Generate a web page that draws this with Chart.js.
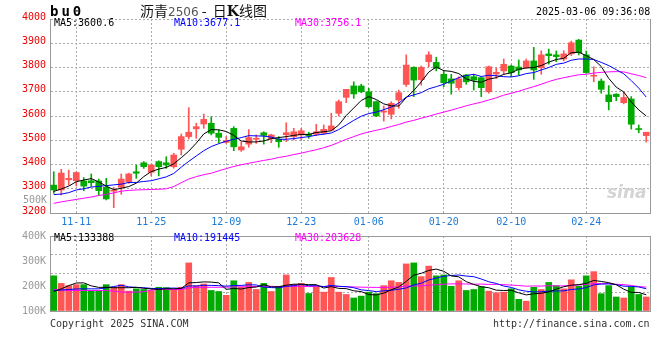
<!DOCTYPE html>
<html>
<head>
<meta charset="utf-8">
<script src="https://cdn.jsdelivr.net/npm/chart.js@4.4.1/dist/chart.umd.min.js"></script>
<style>
  body { margin: 0; background: #fff; width: 660px; height: 360px; position: relative; overflow: hidden; font-family: 'DejaVu Sans Mono', monospace; }
  .t { position: absolute; white-space: pre; font-size: 10px; line-height: 12px; }
  #priceBox { position: absolute; left: 0; top: 0; width: 660px; height: 232px; }
  #volBox { position: absolute; left: 0; top: 226px; width: 660px; height: 134px; }
</style>
</head>
<body>
<div id="priceBox"><canvas id="price" width="660" height="232"></canvas></div>
<div id="volBox"><canvas id="vol" width="660" height="134"></canvas></div>

<div class="t" style="left:50px;top:4px;font:bold 14px/15px 'DejaVu Sans Mono';letter-spacing:3px;">bu0</div>
<div class="t" style="left:140px;top:1px;font:14px/18px 'Noto Sans CJK SC';color:#111;">沥青<span style="font:12px 'DejaVu Sans';color:#555;">2506</span> -  日<b style="font-family:'DejaVu Serif'">K</b>线图</div>
<div class="t" style="left:536px;top:6px;color:#000;">2025-03-06 09:36:08</div>

<div class="t" style="left:54px;top:17px;color:#000;">MA5:3600.6</div>
<div class="t" style="left:174px;top:17px;color:#0000ff;">MA10:3677.1</div>
<div class="t" style="left:295px;top:17px;color:#ff00ff;">MA30:3756.1</div>

<div class="t" style="left:23px;top:194px;color:#999;">500K</div>
<div class="t" style="left:607px;top:183px;font:italic bold 17px/18px 'DejaVu Sans';color:#d4d4d4;">sina</div>

<div class="t" style="left:54px;top:232px;color:#000;">MA5:133388</div>
<div class="t" style="left:174px;top:232px;color:#0000ff;">MA10:191445</div>
<div class="t" style="left:295px;top:232px;color:#ff00ff;">MA30:203628</div>

<div class="t" style="left:50px;top:318px;color:#333;">Copyright 2025 SINA.COM</div>
<div class="t" style="left:493px;top:318px;color:#333;">http://finance.sina.com.cn</div>

<script>
// trading days shown (11-06 .. 03-06)
const dates = [
  '11-06','11-07','11-08','11-11','11-12','11-13','11-14','11-15','11-18','11-19',
  '11-20','11-21','11-22','11-25','11-26','11-27','11-28','11-29','12-02','12-03',
  '12-04','12-05','12-06','12-09','12-10','12-11','12-12','12-13','12-16','12-17',
  '12-18','12-19','12-20','12-23','12-24','12-25','12-26','12-27','12-30','12-31',
  '01-02','01-03','01-06','01-07','01-08','01-09','01-10','01-13','01-14','01-15',
  '01-16','01-17','01-20','01-21','01-22','01-23','01-24','01-27','02-05','02-06',
  '02-07','02-10','02-11','02-12','02-13','02-14','02-17','02-18','02-19','02-20',
  '02-21','02-24','02-25','02-26','02-27','02-28','03-03','03-04','03-05','03-06'
];
const axisDates = ['11-11','11-25','12-09','12-23','01-06','01-20','02-10','02-24'];

const opens = [
  3315,3295,3337,3333,3332,3333,3332,3306,3290,3306,3329,3370,3407,3368,3412,3407,3391,3463,3515,3547,
  3567,3570,3529,3491,3549,3460,3484,3504,3531,3506,3504,3523,3515,3522,3525,3525,3529,3542,3611,3677,
  3724,3724,3700,3659,3616,3607,3666,3730,3801,3750,3824,3821,3772,3753,3717,3769,3762,3758,3700,3773,
  3786,3806,3802,3799,3827,3799,3856,3852,3835,3856,3913,3852,3764,3744,3687,3690,3655,3670,3546,3519
];
const highs = [
  3370,3380,3377,3370,3346,3361,3340,3343,3306,3361,3364,3398,3412,3401,3415,3432,3446,3526,3634,3570,
  3608,3597,3542,3515,3556,3494,3544,3522,3535,3525,3515,3572,3549,3549,3533,3566,3563,3611,3666,3710,
  3741,3731,3714,3662,3641,3659,3707,3852,3803,3806,3865,3842,3786,3772,3762,3772,3772,3762,3806,3799,
  3835,3810,3831,3835,3883,3869,3876,3868,3869,3909,3916,3868,3803,3753,3725,3692,3700,3680,3563,3533
];
const lows = [
  3281,3274,3315,3311,3292,3309,3274,3254,3222,3277,3322,3343,3384,3353,3353,3384,3385,3439,3505,3508,
  3549,3522,3490,3487,3457,3454,3471,3487,3484,3490,3471,3494,3501,3501,3508,3519,3525,3539,3600,3655,
  3673,3696,3636,3597,3579,3588,3632,3722,3680,3727,3803,3786,3721,3690,3707,3731,3707,3680,3694,3755,
  3772,3762,3769,3797,3751,3772,3814,3824,3827,3849,3852,3776,3741,3694,3625,3663,3650,3546,3531,3492
];
const closes = [
  3295,3365,3343,3367,3311,3325,3292,3258,3294,3340,3361,3364,3391,3398,3391,3398,3439,3515,3533,3556,
  3586,3529,3512,3498,3473,3473,3511,3508,3520,3522,3494,3531,3535,3539,3519,3535,3545,3559,3659,3710,
  3691,3700,3638,3600,3620,3652,3696,3810,3748,3801,3852,3797,3737,3735,3753,3741,3748,3717,3803,3780,
  3813,3779,3790,3827,3790,3852,3849,3845,3856,3902,3861,3779,3768,3710,3659,3680,3676,3566,3544,3533
];

const ma5 = [
  3289,3299,3311,3329,3336,3342,3328,3311,3296,3302,3309,3323,3350,3371,3381,3388,3403,3428,3455,3488,
  3526,3544,3543,3536,3520,3497,3493,3493,3497,3507,3511,3515,3520,3524,3524,3532,3535,3539,3563,3602,
  3633,3664,3680,3668,3650,3642,3641,3676,3705,3741,3781,3802,3787,3784,3775,3753,3743,3739,3752,3758,
  3772,3778,3793,3798,3800,3808,3822,3833,3838,3861,3863,3849,3833,3804,3755,3719,3699,3658,3625,3600
];
const ma10 = [
  3276,3278,3284,3295,3300,3307,3310,3313,3316,3319,3326,3326,3330,3333,3341,3349,3363,3389,3413,3435,
  3457,3474,3486,3496,3504,3511,3519,3518,3517,3513,3504,3504,3507,3511,3515,3521,3525,3530,3544,3563,
  3582,3599,3610,3616,3626,3637,3653,3678,3687,3696,3712,3721,3731,3745,3758,3767,3772,3763,3768,3766,
  3762,3761,3766,3775,3779,3790,3800,3813,3818,3830,3835,3835,3833,3821,3808,3791,3774,3746,3715,3678
];
const ma30 = [
  3240,3246,3251,3256,3261,3266,3272,3277,3283,3290,3293,3295,3296,3297,3298,3300,3309,3325,3340,3350,
  3358,3364,3374,3383,3392,3399,3405,3411,3417,3422,3429,3434,3441,3447,3454,3461,3469,3479,3491,3504,
  3515,3526,3534,3541,3548,3557,3565,3575,3582,3591,3599,3608,3616,3624,3633,3642,3650,3657,3666,3675,
  3686,3694,3702,3712,3721,3731,3742,3751,3758,3764,3770,3772,3777,3780,3782,3783,3782,3774,3767,3758
];

// volume, thousands of lots
const volumes = [
  319,250,230,239,239,180,180,239,215,239,180,201,195,186,215,212,195,215,436,230,
  245,186,177,142,274,215,259,195,250,177,221,327,239,250,159,221,171,304,171,150,
  118,135,171,157,230,274,259,427,436,312,407,319,327,224,274,186,195,221,180,165,
  171,201,106,89,215,195,259,230,201,283,224,319,357,157,230,127,118,215,150,127
];
const volMa5 = [
  177,201,230,254,255,228,214,215,211,211,211,215,206,200,195,202,201,205,255,258,
  264,262,255,196,205,199,213,217,239,219,220,234,243,243,239,239,208,221,205,203,
  183,176,149,146,162,193,218,269,325,342,368,380,360,318,310,266,241,220,211,189,
  186,188,165,146,156,161,173,198,220,234,239,251,277,268,257,238,198,169,168,147
];
const volMa10 = [
  186,190,195,200,201,201,201,210,222,233,219,214,211,205,203,206,208,205,227,227,
  233,232,230,225,231,232,238,236,217,212,210,224,230,241,229,230,221,232,224,221,
  211,192,185,176,183,188,197,209,236,252,281,299,315,322,326,317,311,290,265,250,
  226,214,192,179,173,174,180,181,183,195,200,212,237,244,246,239,225,223,218,202
];
const volMa30 = [
  195,190,186,186,186,186,186,186,180,171,171,171,175,190,195,195,195,195,210,214,
  215,215,215,216,218,220,221,222,223,224,221,223,223,224,221,223,222,224,223,220,
  218,216,215,214,214,216,219,226,226,228,234,238,243,246,246,245,243,244,241,241,
  239,235,231,225,227,226,229,227,228,232,236,242,248,248,248,243,239,231,222,216
];
const priceTicks = { min: 3200, max: 4000, step: 100 };
const volTickLabels = [100, 200, 300, 400];

const RED = '#ff5555';
const GREEN = '#00aa00';
const GRID = '#aaaaaa';
const mono = { family: 'DejaVu Sans Mono', size: 10 };

const candleColor = closes.map((c, i) => c >= opens[i] ? RED : GREEN);
const dateGrid = c => axisDates.includes(dates[c.index]) ? GRID : 'rgba(0,0,0,0)';

// right border (and top for volume panel)
const frame = {
  id: 'frame',
  afterDraw(chart, args, opts) {
    const { ctx, chartArea: a } = chart;
    ctx.save();
    ctx.strokeStyle = '#999';
    ctx.lineWidth = 1;
    ctx.beginPath();
    ctx.moveTo(a.right + 0.5, a.top);
    ctx.lineTo(a.right + 0.5, a.bottom);
    if (opts.top) {
      ctx.moveTo(a.left, a.top + 0.5);
      ctx.lineTo(a.right, a.top + 0.5);
    }
    ctx.stroke();
    ctx.restore();
  }
};

function maLine(data, color, yAxisID) {
  return { type: 'line', data, borderColor: color, borderWidth: 1, pointRadius: 0, tension: 0, order: 0, yAxisID };
}

new Chart(document.getElementById('price'), {
  type: 'bar',
  data: {
    labels: dates,
    datasets: [
      maLine(ma5, '#000000', 'y'),
      maLine(ma10, '#0000ff', 'y'),
      maLine(ma30, '#ff00ff', 'y'),
      { data: opens.map((o, i) => [o, closes[i]]), backgroundColor: candleColor, barThickness: 6, minBarLength: 1, grouped: false, order: 2 },
      { data: lows.map((l, i) => [l, highs[i]]), backgroundColor: candleColor, barThickness: 1, grouped: false, order: 3 }
    ]
  },
  options: {
    responsive: false,
    animation: false,
    events: [],
    layout: { padding: { top: 19, right: 10, left: 0, bottom: 0 } },
    plugins: { legend: { display: false }, tooltip: { enabled: false }, frame: { top: false } },
    scales: {
      x: {
        offset: true,
        grid: { offset: false, drawTicks: false, color: dateGrid },
        border: { color: '#999', dash: [2, 2] },
        ticks: {
          autoSkip: false, maxRotation: 0, padding: 3, color: '#1e7bd8', font: mono,
          callback: (v, i) => axisDates.includes(dates[i]) ? dates[i] : ''
        },
        afterFit: s => { s.height = 19; }
      },
      y: {
        min: priceTicks.min, max: priceTicks.max,
        ticks: { stepSize: priceTicks.step, color: '#ee0000', font: mono, padding: 4, labelOffset: -2, callback: v => String(v) },
        grid: { color: GRID, drawTicks: false },
        border: { color: '#999', dash: [2, 2] },
        afterFit: s => { s.width = 50; }
      }
    }
  },
  plugins: [frame]
});

new Chart(document.getElementById('vol'), {
  type: 'bar',
  data: {
    labels: dates,
    datasets: [
      maLine(volMa5, '#000000', 'y'),
      maLine(volMa10, '#0000ff', 'y'),
      maLine(volMa30, '#ff00ff', 'y'),
      { data: volumes, backgroundColor: candleColor, barThickness: 6, order: 2, yAxisID: 'y' }
    ]
  },
  options: {
    responsive: false,
    animation: false,
    events: [],
    layout: { padding: { top: 8, right: 10, left: 0, bottom: 49 } },
    plugins: { legend: { display: false }, tooltip: { enabled: false }, frame: { top: true } },
    scales: {
      x: {
        offset: true,
        grid: { offset: false, drawTicks: false, color: dateGrid },
        border: { color: '#999', dash: [2, 2] },
        ticks: { display: false },
        afterFit: s => { s.height = 0; }
      },
      y: {
        min: 0, max: 680, weight: 0,
        ticks: { display: false, stepSize: 175 },
        grid: { drawTicks: false, color: c => (c.tick && c.tick.value > 0 && c.tick.value < 680) ? GRID : 'rgba(0,0,0,0)' },
        border: { color: '#999', dash: [2, 2] },
        afterFit: s => { s.width = 0; }
      },
      yLab: {
        axis: 'y', position: 'left', weight: 1,
        min: volTickLabels[0], max: volTickLabels[volTickLabels.length - 1],
        ticks: { stepSize: 100, color: '#999', font: mono, padding: 4, callback: v => v + 'K' },
        grid: { display: false, drawTicks: false },
        border: { display: false },
        afterFit: s => { s.width = 50; }
      }
    }
  },
  plugins: [frame]
});
</script>
</body>
</html>
